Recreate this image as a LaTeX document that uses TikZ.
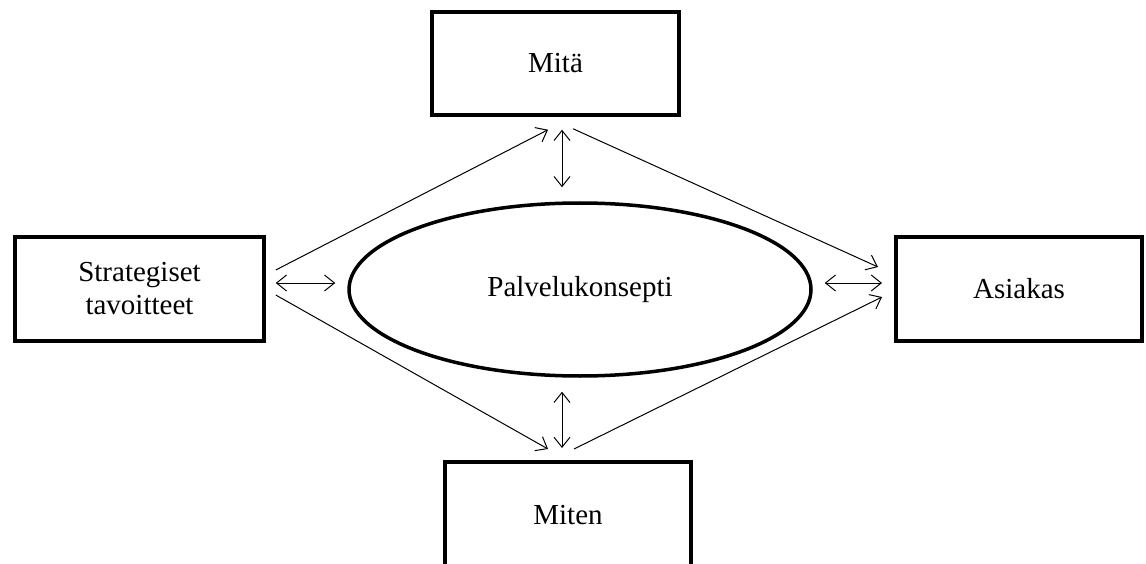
\documentclass[tikz,border=0pt]{standalone}
\usepackage{fontspec}
\setmainfont{Liberation Serif}
\usetikzlibrary{arrows.meta,shapes.geometric}
\begin{document}
\begin{tikzpicture}[x=1pt,y=-1pt,
  box/.style={draw,line width=4pt,inner sep=0pt,align=center,font=\fontsize{29}{33}\selectfont},
  ell/.style={draw,ellipse,line width=3.5pt,inner sep=0pt,minimum width=462pt,minimum height=173pt,font=\fontsize{29}{33}\selectfont},
  arr/.style={line width=1pt,-{Straight Barb[length=10pt,width=16pt,line width=1pt]}},
  darr/.style={line width=1pt,{Straight Barb[length=10pt,width=16pt,line width=1pt]}-{Straight Barb[length=10pt,width=16pt,line width=1pt]}}]
\useasboundingbox (0,0) rectangle (1146,564);
\node[box,minimum width=247pt,minimum height=103pt] (mita) at (555.5,63.5) {Mitä};
\node[box,minimum width=249pt,minimum height=104pt] (strat) at (139.5,289) {Strategiset\\tavoitteet};
\node[box,minimum width=246pt,minimum height=104pt] (asia) at (1019,289) {Asiakas};
\node[box,minimum width=246pt,minimum height=106pt] (miten) at (568,515) {Miten};
\node[ell] (pk) at (580,289.5) {Palvelukonsepti};
% connectors
\draw[arr] ([shift={(9.75,-19)}]strat.east) -- ([shift={(-7.5,12.75)}]mita.south);
\draw[arr] ([shift={(9.75,6)}]strat.east) -- ([shift={(-20,-11)}]miten.north);
\draw[darr] ([shift={(9.75,-6)}]strat.east) -- ([shift={(-12,-6.5)}]pk.west);
\draw[arr] ([shift={(17.5,11.75)}]mita.south) -- ([shift={(-16,-22)}]asia.west);
\draw[darr] ([shift={(6.5,12.75)}]mita.south) -- ([shift={(-18,-14)}]pk.north);
\draw[darr] ([shift={(12,-6.5)}]pk.east) -- ([shift={(-12,-6)}]asia.west);
\draw[arr] ([shift={(6,-11)}]miten.north) -- ([shift={(-12,8)}]asia.west);
\draw[darr] ([shift={(-18,14)}]pk.south) -- ([shift={(-6,-12)}]miten.north);
\end{tikzpicture}
\end{document}
